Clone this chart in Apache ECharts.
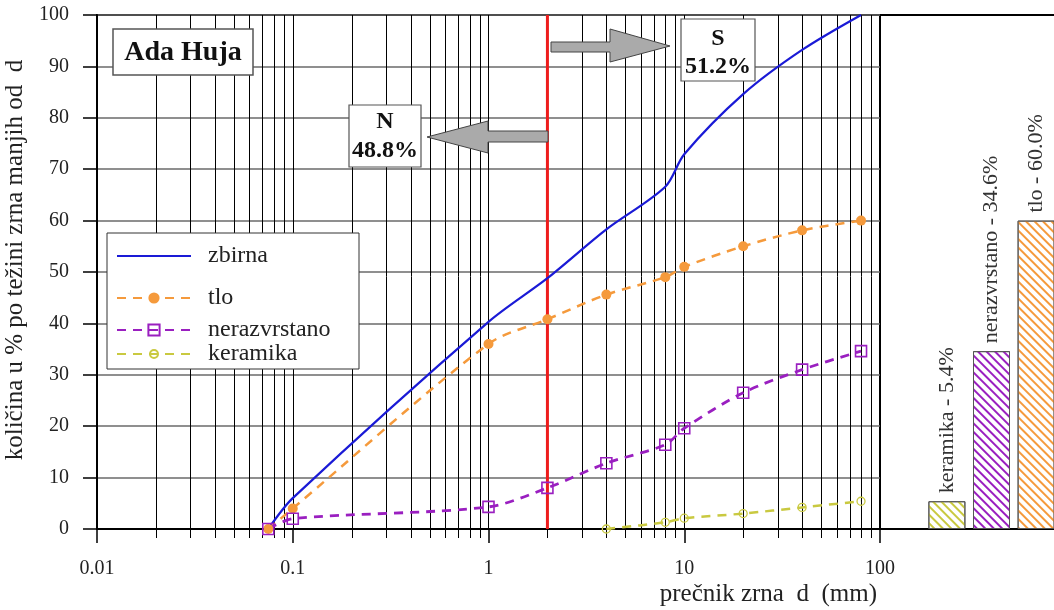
<!DOCTYPE html>
<html>
<head>
<meta charset="utf-8">
<script src="https://cdn.jsdelivr.net/npm/echarts@6.0.0/dist/echarts.min.js"></script>
<style>
html,body{margin:0;padding:0;background:#fff}
#c{width:1054px;height:610px}
</style>
</head>
<body>
<div id="c"></div>
<script>
// ---- data ----
const grainSizes   = [0.075, 0.1, 1, 2, 4, 8, 10, 20, 40, 80];
const zbirna       = [0, 6.0, 40.3, 48.8, 58.3, 66.6, 72.9, 84.6, 93.2, 100];
const tlo          = [0, 4.0, 36.0, 40.8, 45.6, 49.0, 51.0, 55.0, 58.1, 60.0];
const nerazvrstano = [0, 2.0, 4.3, 8.0, 12.8, 16.4, 19.6, 26.5, 31.0, 34.6];
const keramika     = [null, null, null, null, 0, 1.3, 2.1, 3.0, 4.2, 5.4];
const boundarySize = 2;            // N / S split at d = 2 mm
const xTickLabels  = ['0.01', '0.1', '1', '10', '100'];
const minorGridValues = [0.02,0.03,0.04,0.05,0.06,0.07,0.08,0.09,
                         0.2,0.3,0.4,0.5,0.6,0.7,0.8,0.9,
                         2,3,4,5,6,7,8,9,
                         20,30,40,50,60,70,80,90];
const barCategories = ['', 'keramika', 'nerazvrstano', 'tlo', ''];
const barValues     = [null, 5.4, 34.6, 60.0, null];

// ---- chart ----
const F = '"Liberation Serif", "DejaVu Serif", serif';
const C = {
  zbirna: '#1a1ad6', tlo: '#f59a3c', nerazvrstano: '#9a1fc0', keramika: '#c9c940', red: '#ee1c1c'
};
function pairs(vals) {
  const out = [];
  grainSizes.forEach((d, i) => { if (vals[i] !== null) out.push([d, vals[i]]); });
  return out;
}
const hatch = c => ({ symbol: 'rect', symbolSize: 1, color: c, dashArrayX: [1, 0], dashArrayY: [1.1, 3.2], rotation: Math.PI / 4 });
const barColorMap = { keramika: C.keramika, nerazvrstano: C.nerazvrstano, tlo: C.tlo };

const chart = echarts.init(document.getElementById('c'), null, { renderer: 'canvas' });

const legendBase = (name, top, extra) => Object.assign({
  data: [name], left: 116, top: top, orient: 'vertical', padding: 0,
  itemWidth: 74, itemHeight: 14, z: 6,
  textStyle: { fontFamily: F, fontSize: 24, color: '#222', padding: [0, 0, 0, 12] },
  selectedMode: false
}, extra || {});

const dash = [9, 7];
const SMOOTH = 0.3;

const option = {
  animation: false,
  backgroundColor: '#fff',
  grid: [
    { left: 97, top: 15, width: 783, height: 514, show: true, borderColor: '#000', borderWidth: 2, outerBoundsMode: 'none' },
    { left: 880, top: 15, width: 223, height: 514, show: true, borderColor: '#000', borderWidth: 2, outerBoundsMode: 'none' }
  ],
  legend: [
    legendBase('zbirna', 244, { itemStyle: { opacity: 0 } }),
    legendBase('tlo', 286),
    legendBase('nerazvrstano', 318),
    legendBase('keramika', 342, { itemHeight: 10 })
  ],
  xAxis: [
    {
      gridIndex: 0, type: 'log', logBase: 10, min: 0.01, max: 100,
      axisLine: { show: true, onZero: false, lineStyle: { color: '#000', width: 2 } },
      axisTick: { show: true, length: 14, lineStyle: { color: '#000', width: 1.5 } },
      axisLabel: {
        margin: 30, fontFamily: F, fontSize: 20, color: '#222',
        formatter: v => xTickLabels[Math.round(Math.log10(v)) + 2]
      },
      splitLine: { show: true, lineStyle: { color: '#000', width: 1 } },
      name: 'prečnik zrna  d  (mm)', nameLocation: 'end', nameGap: -3,
      nameTextStyle: { fontFamily: F, fontSize: 25, color: '#222', align: 'right', verticalAlign: 'top', padding: [53, 0, 0, 0] }
    },
    {
      gridIndex: 1, type: 'category', data: barCategories,
      axisLine: { show: true, lineStyle: { color: '#000', width: 2 } },
      axisTick: { show: false }, axisLabel: { show: false }, splitLine: { show: false }
    }
  ],
  yAxis: [
    {
      gridIndex: 0, type: 'value', min: 0, max: 100, interval: 10,
      axisLine: { show: true, onZero: false, lineStyle: { color: '#000', width: 2 } },
      axisTick: { show: true, length: 14, lineStyle: { color: '#000', width: 1.5 } },
      axisLabel: { margin: 28, fontFamily: F, fontSize: 20, color: '#222' },
      splitLine: { show: true, lineStyle: { color: '#6a6a6a', width: 1.5 } },
      name: 'količina u % po težini zrna manjih od  d', nameLocation: 'middle', nameGap: 56,
      nameTextStyle: { fontFamily: F, fontSize: 25, color: '#222', padding: [0, 0, 0, 24] }
    },
    { gridIndex: 1, type: 'value', min: 0, max: 100, show: false }
  ],
  series: [
    {
      type: 'custom', name: 'minorGrid', xAxisIndex: 0, yAxisIndex: 0, z: 1, silent: true, clip: false,
      data: minorGridValues.map(v => [v, 0]),
      renderItem: (params, api) => {
        const v = api.value(0);
        const top = api.coord([v, 100]);
        const bot = api.coord([v, 0]);
        const x = Math.round(top[0]) + 0.5;
        return {
          type: 'line',
          shape: { x1: x, y1: top[1], x2: x, y2: bot[1] + 9 },
          style: { stroke: '#000', lineWidth: 1 }
        };
      }
    },
    {
      type: 'line', name: 'granica', xAxisIndex: 0, yAxisIndex: 0, z: 4, silent: true,
      data: [[boundarySize, 0], [boundarySize, 100]], symbol: 'none',
      lineStyle: { color: C.red, width: 3 }
    },
    {
      type: 'line', name: 'zbirna', xAxisIndex: 0, yAxisIndex: 0, z: 5,
      data: pairs(zbirna), smooth: SMOOTH, symbol: 'none',
      color: C.zbirna, lineStyle: { color: C.zbirna, width: 2.2 }
    },
    {
      type: 'line', name: 'tlo', xAxisIndex: 0, yAxisIndex: 0, z: 5,
      data: pairs(tlo), smooth: SMOOTH, symbol: 'circle', symbolSize: 10,
      color: C.tlo, itemStyle: { color: C.tlo },
      lineStyle: { color: C.tlo, width: 2.5, type: dash }
    },
    {
      type: 'line', name: 'nerazvrstano', xAxisIndex: 0, yAxisIndex: 0, z: 5,
      data: pairs(nerazvrstano), smooth: SMOOTH, symbol: 'rect', symbolSize: 11,
      itemStyle: { color: 'rgba(255,255,255,0)', borderColor: C.nerazvrstano, borderWidth: 1.6 },
      lineStyle: { color: C.nerazvrstano, width: 2.8, type: dash }
    },
    {
      type: 'line', name: 'keramika', xAxisIndex: 0, yAxisIndex: 0, z: 5,
      data: pairs(keramika), smooth: SMOOTH, symbol: 'circle', symbolSize: 8,
      itemStyle: { color: 'rgba(255,255,255,0)', borderColor: C.keramika, borderWidth: 1.3 },
      lineStyle: { color: C.keramika, width: 2.5, type: dash }
    },
    {
      type: 'bar', name: 'udeli', xAxisIndex: 1, yAxisIndex: 1, barWidth: 37, z: 3,
      data: barValues.map((v, i) => v === null ? null : {
        value: v,
        itemStyle: { color: '#fff', borderColor: '#555', borderWidth: 1, decal: hatch(barColorMap[barCategories[i]]) }
      }),
      label: {
        show: true, position: 'top', rotate: 90, align: 'left', verticalAlign: 'middle', distance: 8,
        fontFamily: F, fontSize: 22, color: '#333',
        formatter: p => p.name + ' - ' + Number(p.value).toFixed(1) + '%'
      }
    }
  ],
  graphic: [
    { type: 'rect', z: 3, shape: { x: 107, y: 233, width: 252, height: 136 }, style: { fill: '#fff', stroke: '#333', lineWidth: 1 } },
    { type: 'rect', z: 10, shape: { x: 113, y: 29, width: 140, height: 46 }, style: { fill: '#fff', stroke: '#555', lineWidth: 1.5 } },
    { type: 'text', z: 11, x: 183, y: 53, style: { text: 'Ada Huja', font: 'bold 28px ' + F, fill: '#111', align: 'center', verticalAlign: 'middle' } },
    { type: 'polygon', z: 9, shape: { points: [[548,131],[488,131],[488,121],[427,137],[488,153],[488,142],[548,142]] }, style: { fill: '#aaa', stroke: '#444', lineWidth: 1 } },
    { type: 'polygon', z: 9, shape: { points: [[551,42],[610,42],[610,29],[670,46],[610,62],[610,52],[551,52]] }, style: { fill: '#aaa', stroke: '#444', lineWidth: 1 } },
    { type: 'rect', z: 10, shape: { x: 349, y: 105, width: 72, height: 62 }, style: { fill: '#fff', stroke: '#555', lineWidth: 1.2 } },
    { type: 'text', z: 11, x: 385, y: 122, style: { text: 'N', font: 'bold 24px ' + F, fill: '#111', align: 'center', verticalAlign: 'middle' } },
    { type: 'text', z: 11, x: 385, y: 151, style: { text: '48.8%', font: 'bold 24px ' + F, fill: '#111', align: 'center', verticalAlign: 'middle' } },
    { type: 'rect', z: 10, shape: { x: 681, y: 19, width: 74, height: 62 }, style: { fill: '#fff', stroke: '#555', lineWidth: 1.2 } },
    { type: 'text', z: 11, x: 718, y: 39, style: { text: 'S', font: 'bold 24px ' + F, fill: '#111', align: 'center', verticalAlign: 'middle' } },
    { type: 'text', z: 11, x: 718, y: 67, style: { text: '51.2%', font: 'bold 24px ' + F, fill: '#111', align: 'center', verticalAlign: 'middle' } }
  ]
};
chart.setOption(option);
</script>
</body>
</html>
